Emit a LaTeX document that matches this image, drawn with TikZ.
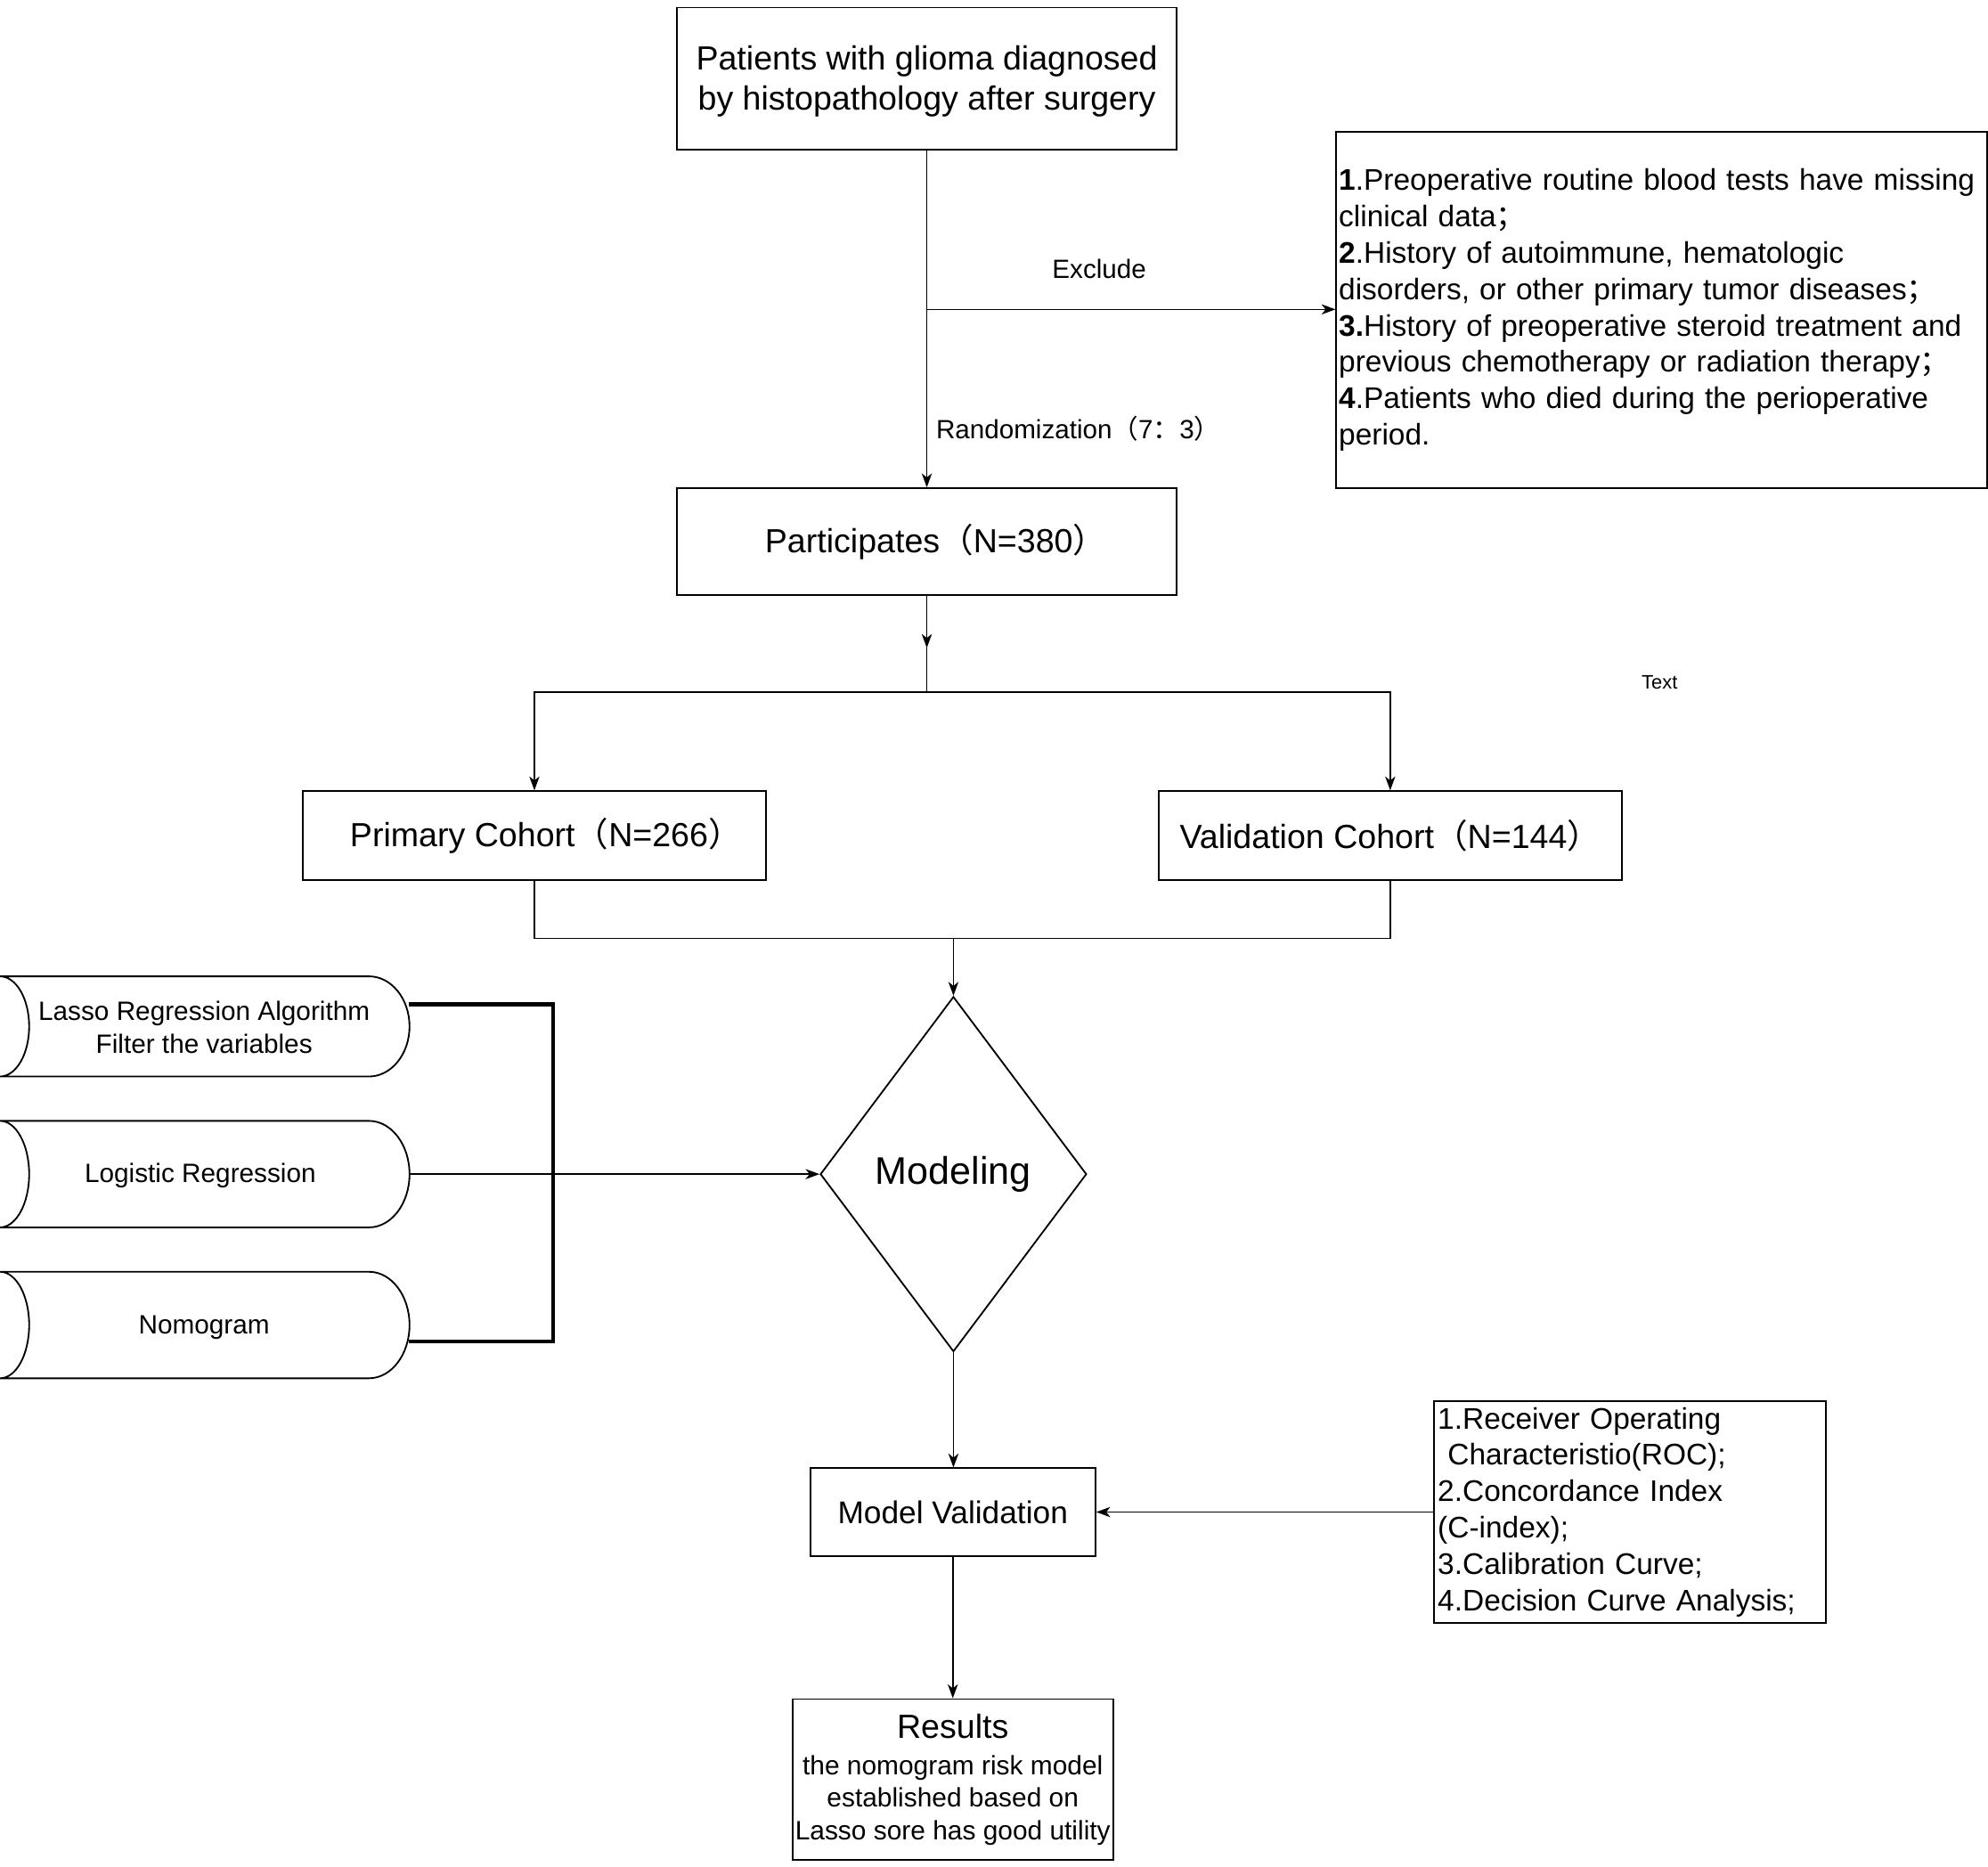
\documentclass[tikz,border=0pt]{standalone}
\usepackage{fontspec}
\setmainfont{Liberation Sans}
\newfontfamily\cjk{Noto Sans CJK SC}
\usetikzlibrary{shapes.geometric,arrows.meta,calc}
\begin{document}
\begin{tikzpicture}[x=0.5pt,y=-0.5pt,
  box/.style={draw, line width=0.65pt, inner sep=0.5pt, align=center, fill=white},
  conn/.style={line width=0.55pt},
  arr/.style={conn, -{Stealth[length=5.5pt,width=4pt,inset=1.6pt]}},
  shapeline/.style={draw, line width=0.65pt, fill=white},
  bigfont/.style={font=\fontsize{13.2}{16}\selectfont},
  listfont/.style={font=\fontsize{11.75}{14.35}\selectfont},
  lab/.style={font=\fontsize{10.4}{12.5}\selectfont, inner sep=0pt},
  cylfont/.style={font=\fontsize{10.45}{13}\selectfont, align=center, inner sep=0pt}]
\useasboundingbox (0,0) rectangle (1568,1472);

% boxes
\node[box, minimum width=197pt, minimum height=56pt] (top) at (731,62) {};
\node[bigfont, align=center, inner sep=0pt] (toptext) at (731,64)
  {Patients with glioma diagnosed\\by histopathology after surgery};
\node[box, listfont, minimum width=256.5pt, minimum height=140.5pt, inner xsep=1pt, text width=254.5pt, align=left] (excl) at (1310.5,244.5)
  {\textbf{1}.Preoperative routine blood tests have missing\\
   clinical data{\cjk；}\\
   \textbf{2}.History of autoimmune, hematologic\\
   disorders, or other primary tumor diseases{\cjk；}\\
   \textbf{3.}History of preoperative steroid treatment and\\
   previous chemotherapy or radiation therapy{\cjk；}\\
   \textbf{4}.Patients who died during the perioperative\\
   period.};
\node[box, bigfont, minimum width=197pt, minimum height=42pt] (part) at (731,427)
  {\hspace*{7pt}Participates{\cjk（}N=380{\cjk）}};
\node[box, bigfont, minimum width=182.5pt, minimum height=35pt] (prim) at (421.5,659)
  {\hspace*{9pt}Primary Cohort{\cjk（}N=266{\cjk）}};
\node[box, bigfont, minimum width=182.5pt, minimum height=35pt] (val) at (1096.5,659)
  {Validation Cohort{\cjk（}N=144{\cjk）}};
\node[draw, diamond, line width=0.65pt, minimum width=105pt, minimum height=140pt, inner sep=0pt,
  font=\fontsize{15.15}{18}\selectfont] (dia) at (752,926) {Modeling};
\node[box, minimum width=112.5pt, minimum height=34.5pt, font=\fontsize{12.4}{15}\selectfont] (mv) at (751.5,1192.5)
  {Model Validation};
\node[box, listfont, minimum width=154.5pt, minimum height=87.5pt, inner xsep=1.5pt, text width=151.5pt, align=left] (met) at (1285.5,1192.5)
  {1.Receiver Operating\\
   \mbox{}\ Characteristio(ROC);\\
   2.Concordance Index\\
   (C-index);\\
   3.Calibration Curve;\\
   4.Decision Curve Analysis;};
\node[box, minimum width=126.5pt, minimum height=63.5pt, font=\fontsize{10.5}{12.75}\selectfont] (res) at (751.5,1403.5)
  {{\fontsize{13.2}{16}\selectfont Results}\\[1.6pt]the nomogram risk model\\established based on\\Lasso sore has good utility};

% data storage shapes
\draw[shapeline] (0,770) -- (291,770) arc[start angle=90,end angle=-90,x radius=16pt,y radius=19.75pt]
  -- (0,849) arc[start angle=-90,end angle=90,x radius=11.5pt,y radius=19.75pt] -- cycle;
\draw[shapeline] (0,884) -- (291,884) arc[start angle=90,end angle=-90,x radius=16pt,y radius=21pt]
  -- (0,968) arc[start angle=-90,end angle=90,x radius=11.5pt,y radius=21pt] -- cycle;
\draw[shapeline] (0,1003) -- (291,1003) arc[start angle=90,end angle=-90,x radius=16pt,y radius=21pt]
  -- (0,1087) arc[start angle=-90,end angle=90,x radius=11.5pt,y radius=21pt] -- cycle;
\node[cylfont] (lasso) at (161,810) {Lasso Regression Algorithm\\Filter the variables};
\node[cylfont] (logi) at (158,927) {Logistic Regression};
\node[cylfont] (nomo) at (161,1047) {Nomogram};
\coordinate (lassoR) at (322.5,792);
\coordinate (logiR) at (323,926);
\coordinate (nomoR) at (322.5,1058);
\coordinate (brk) at (436,926);

% labels
\node[lab] (exlab) at (867,212) {Exclude};
\node[lab, anchor=west] (randlab) at (738,338) {Randomization{\cjk（}7{\cjk：}3{\cjk）}};
\node[font=\fontsize{7.7}{9}\selectfont, inner sep=0pt] (txt) at (1309,538) {Text};

% connectors
\coordinate (exJ) at (731,244);
\draw[arr] (top.south) -- (part.north);
\draw[arr] (exJ) -- (exJ -| excl.west);
\coordinate (pA) at (731,511);
\coordinate (sp) at (731,546);
\draw[arr] (part.south) -- (pA);
\draw[conn] (pA) -- (sp);
\draw[arr] (sp) -| (prim.north);
\draw[arr] (sp) -| (val.north);
\coordinate (mg) at (752,740);
\draw[conn] (prim.south) |- (val.south |- mg) -- (val.south);
\draw[arr] (mg) -- (dia.north);
\draw[line width=1.5pt] (lassoR) -- (lassoR -| brk) -- (nomoR -| brk) -- (nomoR);
\draw[arr] (logiR) -- (dia.west);
\draw[arr] (dia.south) -- (dia.south |- mv.north);
\draw[arr] (met.west) -- (mv.east);
\draw[arr] (mv.south) -- (mv.south |- res.north);
\end{tikzpicture}
\end{document}
